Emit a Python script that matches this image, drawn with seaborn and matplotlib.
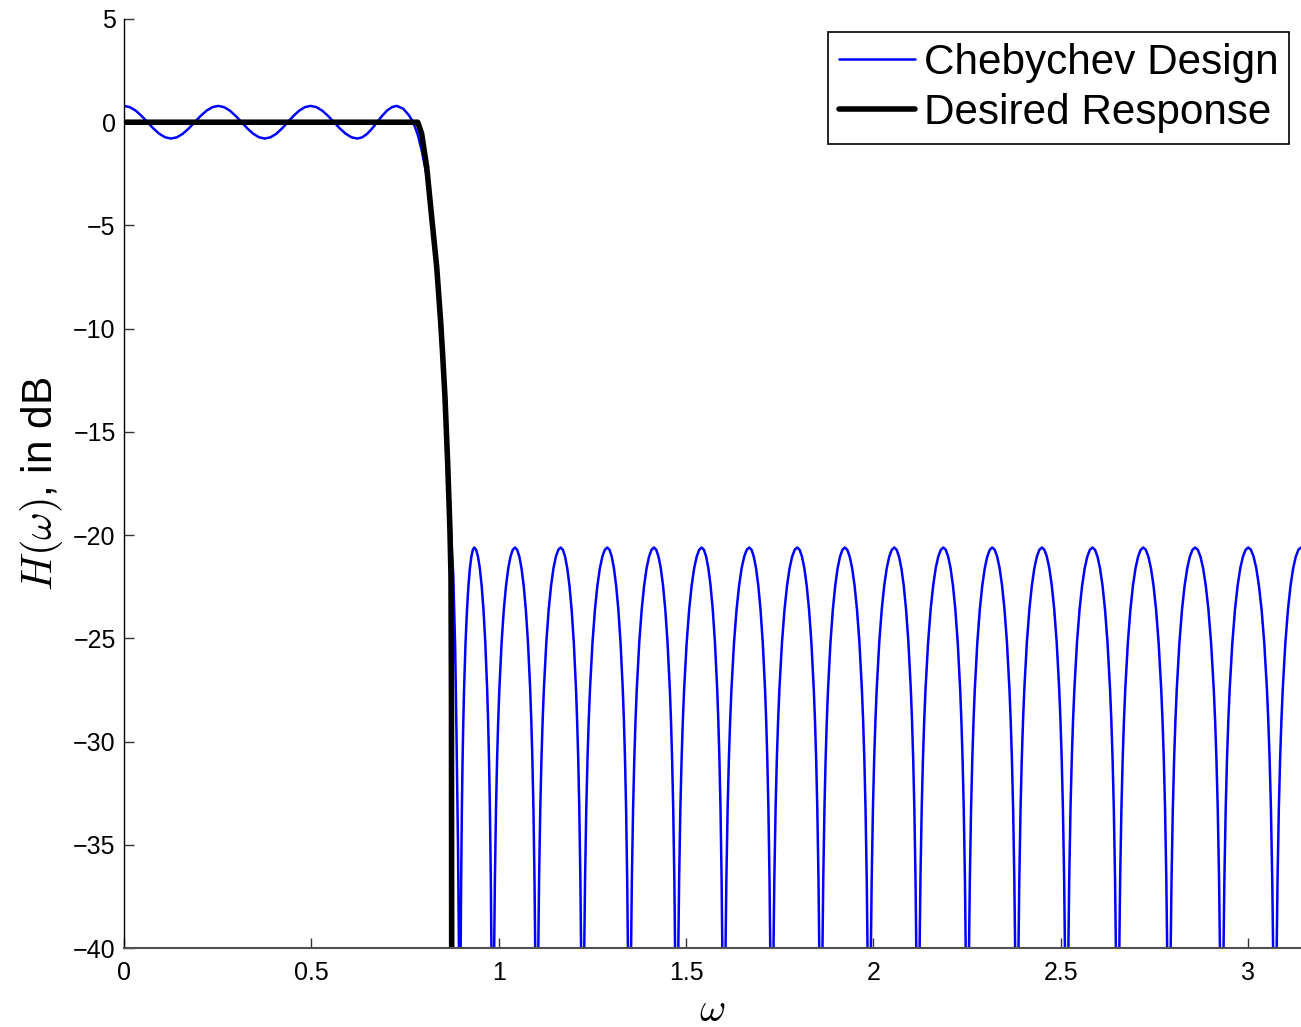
import numpy as np
import pandas as pd
import matplotlib
matplotlib.use("Agg")
import matplotlib.pyplot as plt
import seaborn as sns

# ---------------- data ----------------
# passband ripple (Chebychev design), omega in rad/sample, values in dB
pass_peaks = [0.0, 0.2517, 0.498, 0.728]
pass_troughs = [0.1255, 0.376, 0.623]
pass_ripple_db = 0.79
# ripple shape between a peak (0) and a trough (1): fraction of ripple amplitude
ripple_frac = [0.0, 0.125, 0.25, 0.375, 0.5, 0.625, 0.75, 0.875, 1.0]
ripple_level = [1.0, 0.924, 0.707, 0.383, 0.0, -0.383, -0.707, -0.924, -1.0]

# transition band of the Chebychev design (after the last passband peak)
trans_w = [0.745, 0.760, 0.772, 0.784, 0.795, 0.808, 0.821, 0.8346, 0.845,
           0.852, 0.858, 0.866, 0.8725, 0.879, 0.884, 0.8876, 0.8915, 0.894, 0.8953]
trans_db = [0.66, 0.35, 0.0, -0.6, -1.4, -2.6, -4.6, -7.1, -9.6,
            -11.6, -13.6, -16.6, -19.8, -22.0, -25.5, -29.8, -35.0, -40.0, -50.0]

# stopband nulls and lobe peaks
stop_nulls = [0.896, 0.984, 1.1015, 1.224, 1.349, 1.475, 1.601, 1.729, 1.860,
              1.989, 2.119, 2.251, 2.383, 2.516, 2.652, 2.789, 2.930, 3.072]
stop_peaks = [0.935, 1.0436, 1.1656, 1.290, 1.4146, 1.542, 1.669, 1.797, 1.924,
              2.056, 2.187, 2.3175, 2.450, 2.585, 2.7205, 2.859, 3.0008, np.pi]
stop_peak_db = -20.6
null_db = -80.0
# lobe shape: fraction of the way from peak (0) to null (1) -> dB below the peak
lobe_frac = [0.0, 0.1, 0.2, 0.3, 0.4, 0.5, 0.6, 0.7, 0.75, 0.8, 0.85, 0.9,
             0.93, 0.96, 0.98, 0.99]
lobe_drop = [0.0, -0.11, -0.44, -1.0, -1.84, -3.01, -4.62, -6.86, -8.34, -10.2,
             -12.64, -16.11, -19.2, -24.04, -30.06, -36.1]

# desired response
desired_w = [0.0, 0.7840, 0.7944, 0.808, 0.8212, 0.8346, 0.845, 0.8500, 0.8567,
             0.864, 0.870, 0.8728, 0.8740, 0.8746, 0.8748]
desired_db = [0.0, 0.0, -0.55, -2.17, -4.59, -7.0, -9.6, -11.1, -13.3,
              -16.54, -19.77, -22.0, -28.0, -40.0, -60.0]

x_ticks = [0, 0.5, 1, 1.5, 2, 2.5, 3]
x_tick_labels = ["0", "0.5", "1", "1.5", "2", "2.5", "3"]
y_ticks = [5, 0, -5, -10, -15, -20, -25, -30, -35, -40]

# ---------------- assemble the Chebychev curve ----------------
cw, cd = [], []
extrema = []
for i in range(len(pass_troughs)):
    extrema.append((pass_peaks[i], pass_troughs[i], 1))
    extrema.append((pass_troughs[i], pass_peaks[i + 1], -1))
for a, b, sgn in extrema:
    for f, lv in zip(ripple_frac[:-1], ripple_level[:-1]):
        cw.append(a + f * (b - a))
        cd.append(sgn * lv * pass_ripple_db)
cw.append(pass_peaks[-1]); cd.append(pass_ripple_db)
cw += trans_w; cd += trans_db
cw.append(stop_nulls[0]); cd.append(null_db)
for i, pk in enumerate(stop_peaks):
    left = stop_nulls[i]
    for f, d in zip(lobe_frac[::-1], lobe_drop[::-1]):
        cw.append(pk - f * (pk - left)); cd.append(stop_peak_db + d)
    if i + 1 < len(stop_nulls):
        right = stop_nulls[i + 1]
        for f, d in zip(lobe_frac[1:], lobe_drop[1:]):
            cw.append(pk + f * (right - pk)); cd.append(stop_peak_db + d)
        cw.append(right); cd.append(null_db)

cheb = pd.DataFrame({"w": cw, "db": cd})
desired = pd.DataFrame({"w": desired_w, "db": desired_db})

# ---------------- plot ----------------
sns.set_theme(style="ticks")
plt.rcParams["font.family"] = ["Liberation Sans", "DejaVu Sans"]
plt.rcParams["mathtext.fontset"] = "cm"
plt.rcParams["axes.unicode_minus"] = True
plt.rcParams["text.color"] = "black"
plt.rcParams["axes.labelcolor"] = "black"

fig = plt.figure(figsize=(13.01, 10.27), dpi=100)
ax = fig.add_axes([124 / 1301, 79 / 1027, 1177 / 1301, 929 / 1027])

sns.lineplot(data=cheb, x="w", y="db", ax=ax, color="#0000ff", linewidth=1.8,
             estimator=None, sort=False, label="Chebychev Design")
sns.lineplot(data=desired, x="w", y="db", ax=ax, color="black", linewidth=4,
             estimator=None, sort=False, label="Desired Response")

ax.set_xlim(0, np.pi)
ax.set_ylim(-40, 5)
ax.set_xticks(x_ticks)
ax.set_xticklabels(x_tick_labels)
ax.set_yticks(y_ticks)

for s in ["top", "right"]:
    ax.spines[s].set_visible(False)
ax.spines["left"].set_color("black")
ax.spines["bottom"].set_color("#505050")
ax.spines["left"].set_linewidth(1.0)
ax.spines["bottom"].set_linewidth(1.5)
ax.tick_params(axis="both", direction="in", length=7, width=1, color="#333333",
               labelsize=18, labelcolor="black")
ax.tick_params(axis="x", pad=9)
ax.tick_params(axis="y", pad=6)

ax.set_xlabel(r"$\omega$", fontsize=29, va="baseline")
ax.set_ylabel(r"$H(\omega)$, in dB", fontsize=30.5)
ax.xaxis.set_label_coords(0.5, (948 - 1021) / 929)
ax.yaxis.set_label_coords(-0.050, 0.5)

leg = ax.legend(loc="upper right", bbox_to_anchor=(0.9898, 0.986),
                borderaxespad=0, fontsize=30.4, frameon=True, fancybox=False,
                framealpha=1, edgecolor="black", handlelength=1.8,
                handletextpad=0.22, labelspacing=0.25, borderpad=0.25)
leg.get_frame().set_linewidth(1.2)
for t in leg.get_texts():
    t.set_color("black")

fig.savefig("out.png", dpi=100)
